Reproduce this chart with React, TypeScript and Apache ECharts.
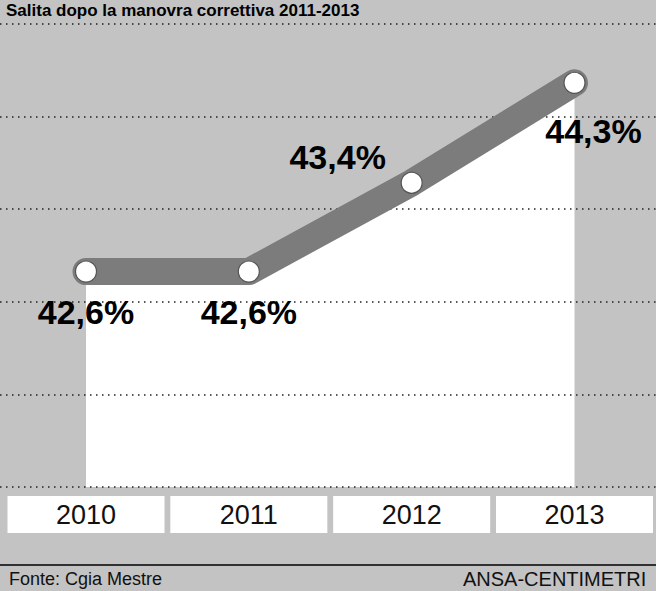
import React, { useEffect, useRef } from 'react';
import * as echarts from 'echarts';

const years = ['2010', '2011', '2012', '2013'];
const values = [42.6, 42.6, 43.4, 44.3];
const valueLabels = ['42,6%', '42,6%', '43,4%', '44,3%'];
const titleText = 'Salita dopo la manovra correttiva 2011-2013';
const sourceText = 'Fonte: Cgia Mestre';
const creditText = 'ANSA-CENTIMETRI';

const labelOffsets = [
  [0, 40],
  [0, 40],
  [-74, -26],
  [19, 48],
];

const FONT = '"Liberation Sans", Arial, sans-serif';

export default function App() {
  const ref = useRef<HTMLDivElement>(null);
  useEffect(() => {
    const chart = echarts.init(ref.current!, null, { renderer: 'svg' });
    chart.setOption({
      animation: false,
      backgroundColor: '#c3c3c3',
      grid: [
        { left: 86, right: 78, top: 24, bottom: 104 },
        { left: 0, right: 0, top: 24, bottom: 104 },
      ],
      xAxis: [
        {
          type: 'category',
          gridIndex: 0,
          data: years,
          boundaryGap: false,
          axisLine: { show: false },
          axisTick: { show: false },
          splitLine: { show: false },
          axisLabel: {
            interval: 0,
            margin: 9,
            fontFamily: FONT,
            fontSize: 27,
            color: '#111',
            backgroundColor: '#ffffff',
            width: 157,
            height: 37,
            lineHeight: 37,
            align: 'center',
            verticalAlign: 'top',
          },
        },
        { type: 'value', gridIndex: 1, min: 0, max: 1, show: false },
      ],
      yAxis: [
        { type: 'value', gridIndex: 0, min: 40.66, max: 44.83, show: false },
        {
          type: 'value',
          gridIndex: 1,
          min: 0,
          max: 5,
          interval: 1,
          axisLine: { show: false },
          axisTick: { show: false },
          axisLabel: { show: false },
          splitLine: { show: true, lineStyle: { color: '#222', type: [1.5, 4.5], width: 1.5 } },
        },
      ],
      series: [
        {
          type: 'line',
          xAxisIndex: 0,
          yAxisIndex: 0,
          data: values,
          z: -1,
          symbol: 'none',
          silent: true,
          lineStyle: { width: 0 },
          areaStyle: { color: '#ffffff', opacity: 1, origin: 'start' },
        },
        {
          type: 'line',
          xAxisIndex: 0,
          yAxisIndex: 0,
          z: 3,
          data: values.map((v, i) => ({ value: v, label: { offset: labelOffsets[i] } })),
          symbol: 'circle',
          symbolSize: 21,
          itemStyle: { color: '#ffffff', borderColor: '#555', borderWidth: 1.2 },
          lineStyle: { color: '#7c7c7c', width: 27, cap: 'round', join: 'round' },
          label: {
            show: true,
            position: 'inside',
            formatter: (p: any) => valueLabels[p.dataIndex],
            fontFamily: FONT,
            fontWeight: 'bold',
            fontSize: 34,
            color: '#000',
            textBorderWidth: 0,
          },
        },
      ],
      graphic: [
        {
          type: 'text',
          x: 6,
          y: 2,
          style: { text: titleText, font: 'bold 17px "Liberation Sans", Arial, sans-serif', fill: '#000' },
        },
        {
          type: 'line',
          shape: { x1: 0, y1: 565, x2: 656, y2: 565 },
          style: { stroke: '#000', lineWidth: 1.5 },
        },
        {
          type: 'text',
          x: 9,
          y: 570,
          style: { text: sourceText, font: '18px "Liberation Sans", Arial, sans-serif', fill: '#111' },
        },
        {
          type: 'text',
          x: 463,
          y: 569,
          style: { text: creditText, font: '20px "Liberation Sans", Arial, sans-serif', fill: '#111' },
        },
      ],
    });
    return () => chart.dispose();
  }, []);
  return <div ref={ref} style={{ position: 'fixed', left: 0, top: 0, width: 656, height: 591 }} />;
}
